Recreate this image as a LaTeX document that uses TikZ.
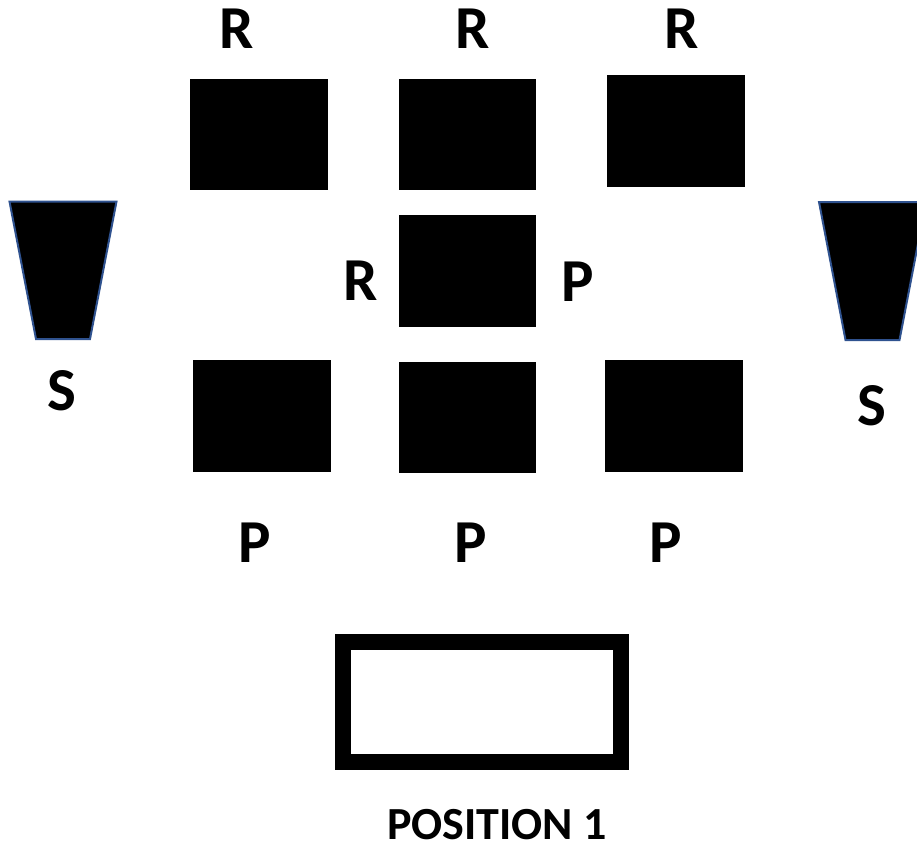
\documentclass[tikz,border=0pt]{standalone}
\usepackage{fontspec}
\setmainfont{Carlito}
\definecolor{trapblue}{HTML}{2F528F}
\begin{document}
\begin{tikzpicture}[x=1pt,y=-1pt,
  lbl/.style={font=\bfseries\fontsize{61}{66}\selectfont, anchor=base, inner sep=0pt},
  blk/.style={fill=black},
  trap/.style={fill=black, draw=trapblue, line width=2pt, line join=miter}]
\useasboundingbox (0,0) rectangle (917,852);
% top row
\fill[blk] (190,79) rectangle (328,190);
\fill[blk] (399,79) rectangle (536,190);
\fill[blk] (607,75) rectangle (745,187);
% middle
\fill[blk] (399,215) rectangle (536,327);
% bottom row
\fill[blk] (193,360) rectangle (331,472);
\fill[blk] (399,362) rectangle (536,473);
\fill[blk] (605,360) rectangle (743,472);
% speakers
\draw[trap] (9.5,201.5) -- (116.5,201.5) -- (90,339) -- (36,339) -- cycle;
\begin{scope}
\clip (0,0) rectangle (917,852);
\draw[trap] (819,202) -- (926,202) -- (899.5,340) -- (845.5,340) -- cycle;
\end{scope}
% open rectangle
\draw[line width=16pt] (343.3,642.3) rectangle (620.5,762);
% labels
\node[lbl] (r1) at (237,48) {R};
\node[lbl] (r2) at (473,48) {R};
\node[lbl] (r3) at (682,48) {R};
\node[lbl] (r4) at (361,300) {R};
\node[lbl] (p4) at (578,301) {P};
\node[lbl] (s1) at (62,410) {S};
\node[lbl] (s2) at (872,425) {S};
\node[lbl] (p1) at (255,562) {P};
\node[lbl] (p2) at (471,562) {P};
\node[lbl] (p3) at (666,562) {P};
\node[lbl, text depth=0pt, font=\bfseries\fontsize{46}{50}\selectfont] (pos) at (497,839) {POSITION 1};
\end{tikzpicture}
\end{document}
